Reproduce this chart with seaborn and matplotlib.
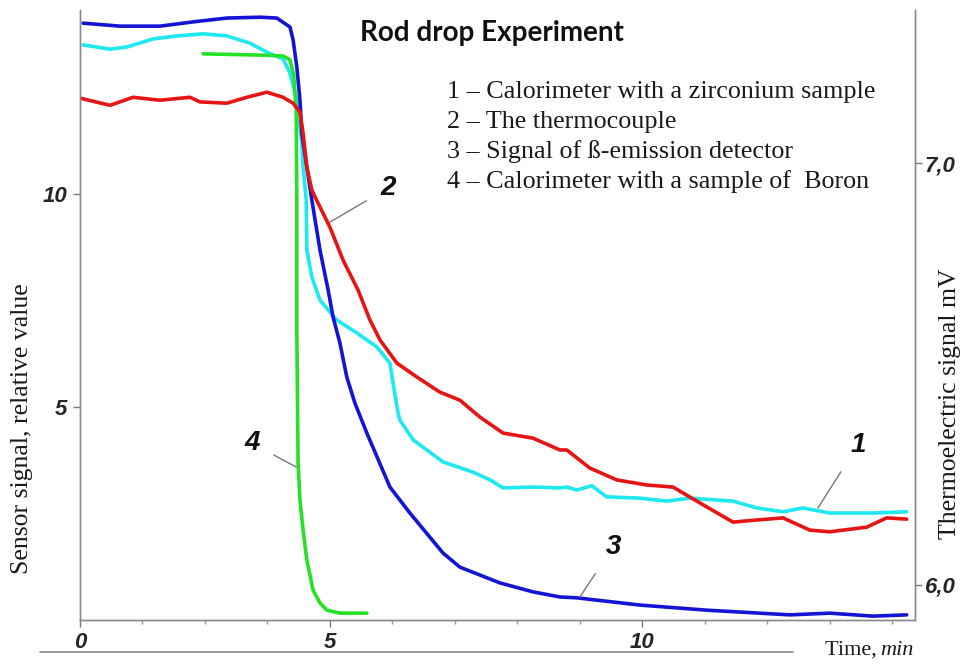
import matplotlib
matplotlib.use("Agg")
import matplotlib.pyplot as plt
from matplotlib.lines import Line2D
import seaborn as sns
import pandas as pd

# ---- data (time in min, signals) ----
cyan_t = [1.05, 1.48, 1.75, 2.17, 2.55, 2.97, 3.35, 3.72, 3.99, 4.25, 4.36, 4.47, 4.55, 4.57,
          4.62, 4.63, 4.71, 4.84, 5.11, 5.43, 5.75, 5.96, 6.01, 6.09, 6.12, 6.33, 6.81, 7.29,
          7.56, 7.77, 8.25, 8.68, 8.79, 8.95, 9.19, 9.43, 9.96, 10.39, 10.76, 11.45, 11.83,
          12.25, 12.57, 13.00, 13.69, 14.23]
cyan_v = [13.50, 13.40, 13.45, 13.64, 13.71, 13.76, 13.71, 13.54, 13.33, 13.17, 12.84, 12.21,
          11.20, 10.63, 9.86, 8.69, 8.05, 7.51, 7.04, 6.74, 6.41, 6.03, 5.56, 4.86, 4.69, 4.23,
          3.71, 3.47, 3.29, 3.10, 3.12, 3.10, 3.12, 3.05, 3.15, 2.89, 2.86, 2.79, 2.86, 2.79,
          2.63, 2.54, 2.63, 2.51, 2.51, 2.54]

red_t = [1.00, 1.48, 1.85, 2.28, 2.76, 2.92, 3.35, 3.67, 3.99, 4.25, 4.41, 4.52, 4.57, 4.63,
         4.71, 4.84, 5.00, 5.21, 5.45, 5.64, 5.80, 6.07, 6.39, 6.76, 7.08, 7.40, 7.77, 8.25,
         8.68, 8.79, 9.16, 9.59, 10.07, 10.49, 11.03, 11.45, 11.83, 12.25, 12.68, 13.00,
         13.59, 13.91, 14.23]
red_mv = [7.154, 7.137, 7.156, 7.149, 7.156, 7.145, 7.142, 7.156, 7.168, 7.156, 7.142, 7.121,
          7.071, 6.991, 6.936, 6.896, 6.848, 6.770, 6.699, 6.628, 6.581, 6.526, 6.493, 6.457,
          6.438, 6.398, 6.360, 6.348, 6.320, 6.320, 6.277, 6.249, 6.237, 6.232, 6.185, 6.149,
          6.154, 6.159, 6.130, 6.126, 6.137, 6.159, 6.156]

blue_t = [1.05, 1.64, 2.28, 2.81, 3.35, 3.88, 4.15, 4.36, 4.41, 4.47, 4.52, 4.55, 4.63, 4.71,
          4.84, 4.97, 5.05, 5.16, 5.27, 5.40, 5.59, 5.96, 6.28, 6.81, 7.08, 7.72, 8.25, 8.68,
          8.95, 9.96, 11.03, 12.36, 13.00, 13.69, 14.23]
blue_v = [14.01, 13.94, 13.94, 14.04, 14.13, 14.15, 14.13, 13.92, 13.62, 12.98, 12.21, 11.43,
          10.63, 9.86, 8.69, 7.75, 7.11, 6.50, 5.70, 5.09, 4.39, 3.12, 2.51, 1.57, 1.24, 0.87,
          0.66, 0.54, 0.52, 0.35, 0.23, 0.12, 0.16, 0.09, 0.12]

green_t = [2.97, 3.88, 4.25, 4.36, 4.42, 4.46, 4.47, 4.47, 4.49, 4.52, 4.57, 4.63, 4.73, 4.84,
           4.95, 5.16, 5.59]
green_v = [13.29, 13.26, 13.24, 13.15, 12.79, 11.97, 9.86, 6.81, 3.69, 2.82, 2.11, 1.41, 0.70,
           0.40, 0.23, 0.16, 0.16]

legend_lines = ["1 \u2013 Calorimeter with a zirconium sample",
                "2 \u2013 The thermocouple",
                "3 \u2013 Signal of \u00df-emission detector",
                "4 \u2013 Calorimeter with a sample of  Boron"]

x_tick_pos = [1.0, 5, 10]
x_tick_lab = ["0", "5", "10"]
y_tick_pos = [5, 10]
y_tick_lab = ["5", "10"]
r_tick_pos = [6.0, 7.0]
r_tick_lab = ["6,0", "7,0"]

# curve labels: (text, curve point x, y, label x, y)  in left-axis data units
curve_labels = [("1", 12.81, 2.63, 13.45, 4.11),
                ("2", 5.00, 9.34, 5.93, 10.14),
                ("3", 9.00, 0.54, 9.53, 1.71),
                ("4", 4.46, 3.59, 3.75, 4.15)]

sns.set_theme(style="white")
plt.rcParams['font.family'] = ['Liberation Serif', 'DejaVu Serif']

fig = plt.figure(figsize=(9.65, 6.64), dpi=100)
ax = fig.add_axes([0.0829, 0.0663, 0.948 - 0.0829, 0.985 - 0.0663])
ax2 = ax.twinx()

C_BLUE = "#1414d6"
C_CYAN = "#1ee8f0"
C_RED = "#e61414"
C_GREEN = "#26e226"
LW = 2.6

df_c = pd.DataFrame({"t": cyan_t, "v": cyan_v})
df_b = pd.DataFrame({"t": blue_t, "v": blue_v})
df_g = pd.DataFrame({"t": green_t, "v": green_v})
df_r = pd.DataFrame({"t": red_t, "v": red_mv})

sns.lineplot(data=df_c, x="t", y="v", ax=ax, color=C_CYAN, lw=LW, sort=False, estimator=None)
sns.lineplot(data=df_g, x="t", y="v", ax=ax, color=C_GREEN, lw=LW, sort=False, estimator=None)
sns.lineplot(data=df_b, x="t", y="v", ax=ax, color=C_BLUE, lw=LW, sort=False, estimator=None)
sns.lineplot(data=df_r, x="t", y="v", ax=ax2, color=C_RED, lw=LW, sort=False, estimator=None)

ax.set_xlim(1.0, 14.36)
ax.set_ylim(0, 14.32)
ax2.set_ylim(5.917, 7.363)
for a in (ax, ax2):
    a.set_xlabel("")
    a.set_ylabel("")
    a.grid(False)
    a.spines['top'].set_visible(False)
    for s in ('left', 'right', 'bottom'):
        a.spines[s].set_color("#8a8a8a")
        a.spines[s].set_linewidth(1.0)

tick_font = dict(family='Liberation Sans', weight='bold', style='italic', size=16)

ax.set_xticks(x_tick_pos)
ax.set_xticklabels(x_tick_lab, **tick_font)
ax.set_xticks(list(range(2, 15)), minor=True)
ax.set_yticks(y_tick_pos)
ax.set_yticklabels(y_tick_lab, **tick_font)
ax.tick_params(axis='both', which='major', direction='out', length=5, width=1,
               color="#777777", left=True, bottom=True, pad=4)
ax.tick_params(axis='x', which='minor', direction='out', length=3, width=1,
               color="#999999", bottom=True)
ax.tick_params(axis='x', which='major', pad=4)

ax2.set_yticks(r_tick_pos)
ax2.set_yticklabels(r_tick_lab, **tick_font)
ax2.tick_params(axis='y', direction='out', length=5, width=1, color="#777777",
                right=True, pad=2)

# labels
fig.text(0.023, 0.355, "Sensor signal, relative value", rotation=90, ha='center',
         va='center', fontsize=18.5, color="#1a1a1a")
fig.text(0.984, 0.392, "Thermoelectric signal mV", rotation=90, ha='center',
         va='center', fontsize=18.5, color="#1a1a1a")
fig.text(0.855, 0.021, "Time, ", ha='left', va='center', fontsize=16, color="#1a1a1a")
fig.text(0.912, 0.021, "min", ha='left', va='center', fontsize=16, style='italic',
         color="#1a1a1a")

# title
fig.text(492 / 965, 1 - 33 / 664, "Rod drop Experiment", ha='center', va='center',
         fontsize=20, weight='bold', family='Lato', color="#111111")

# legend text
for i, line in enumerate(legend_lines):
    fig.text(447 / 965, 1 - (92 + 30 * i) / 664, line, ha='left', va='center',
             fontsize=18.8, color="#1a1a1a")

# curve number labels with leader lines
for txt, px, py, lx, ly in curve_labels:
    ax.annotate(txt, xy=(px, py), xytext=(lx, ly), textcoords='data',
                ha='center', va='center', fontsize=20, family='Liberation Sans',
                weight='bold', style='italic', color="#111111",
                arrowprops=dict(arrowstyle='-', color="#777777", lw=1.0,
                                shrinkA=9, shrinkB=0))

# separate baseline under the axis
fig.add_artist(Line2D([40 / 965, 793 / 965], [1 - 652 / 664, 1 - 652 / 664],
                      color="#8a8a8a", lw=1.2))

fig.savefig("out.png", dpi=100)
